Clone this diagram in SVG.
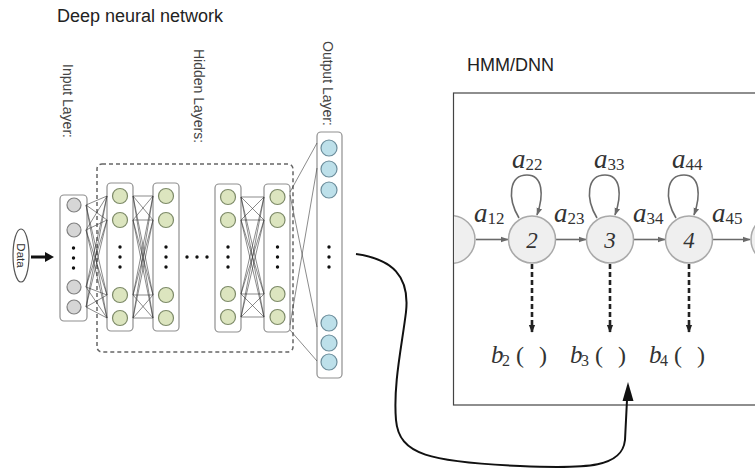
<svg xmlns="http://www.w3.org/2000/svg" width="755" height="470" viewBox="0 0 755 470">
  <defs>
    <style>
      .title{font-family:"Liberation Sans",Arial,sans-serif;font-size:18px;fill:#222}
      .vlabel{font-family:"Liberation Sans",Arial,sans-serif;font-size:14px;fill:#444}
      .lbox{fill:#fff;stroke:#8f8f8f;stroke-width:1.2}
      .in{fill:#d6d6d6;stroke:#808080;stroke-width:1.2}
      .hid{fill:#dce5bf;stroke:#7d8a68;stroke-width:1.2}
      .out{fill:#bde0ea;stroke:#6c8d9b;stroke-width:1.2}
      .dot{fill:#111}
      .wire{stroke:#3c3c3c;stroke-width:0.6;fill:none}
      .state{fill:#efefef;stroke:#a9a9a9;stroke-width:1.5}
      .trans{stroke:#6a6a6a;stroke-width:1.6;fill:none;marker-end:url(#gh)}
      .emit{stroke:#222;stroke-width:2.6;stroke-dasharray:5 3;fill:none;marker-end:url(#bh)}
      .math{font-family:"Liberation Serif","Times New Roman",serif;font-style:italic;fill:#333}
      .up{font-style:normal}
    </style>
    <marker id="gh" viewBox="0 0 10 10" refX="9" refY="5" markerWidth="8" markerHeight="8" markerUnits="userSpaceOnUse" orient="auto">
      <path d="M0 1.5 L10 5 L0 8.5z" fill="#6a6a6a"/>
    </marker>
    <marker id="bh" viewBox="0 0 10 10" refX="9" refY="5" markerWidth="8" markerHeight="8" markerUnits="userSpaceOnUse" orient="auto">
      <path d="M0 1 L10 5 L0 9z" fill="#222"/>
    </marker>
    <clipPath id="hmmclip">
      <rect x="454" y="93" width="301" height="312"/>
    </clipPath>
  </defs>

  <rect width="755" height="470" fill="#fff"/>

  <!-- titles -->
  <text class="title" x="57" y="22">Deep neural network</text>
  <text class="title" x="467" y="71">HMM/DNN</text>

  <!-- rotated layer captions -->
  <text class="vlabel" transform="translate(63,64) rotate(90)">Input Layer:</text>
  <text class="vlabel" transform="translate(194,49) rotate(90)">Hidden Layers:</text>
  <text class="vlabel" transform="translate(323,41) rotate(90)">Output Layer:</text>

  <!-- input data -->
  <g id="data">
    <ellipse cx="21" cy="255.5" rx="8" ry="26.5" fill="#fff" stroke="#555" stroke-width="1.2"/>
    <text transform="translate(21,255.5) rotate(90)" text-anchor="middle" dominant-baseline="central" font-family="Liberation Sans, Arial, sans-serif" font-size="11.5" fill="#333">Data</text>
  </g>

  <!-- hidden block frame -->
  <rect x="97" y="164" width="196" height="188" rx="5" fill="none" stroke="#666" stroke-width="1.5" stroke-dasharray="4 3"/>

  <!-- input layer -->
  <g id="input-layer">
    <rect class="lbox" x="60" y="195" width="27" height="126" rx="4"/>
    <circle class="in" cx="74" cy="205" r="7"/>
    <circle class="in" cx="74" cy="230" r="7"/>
    <circle class="dot" cx="73.5" cy="248" r="1.7"/>
    <circle class="dot" cx="73.5" cy="258" r="1.7"/>
    <circle class="dot" cx="73.5" cy="268" r="1.7"/>
    <circle class="in" cx="74" cy="287" r="7"/>
    <circle class="in" cx="74" cy="307" r="7"/>
  </g>

  <!-- hidden layers -->
  <g id="hidden-1">
    <rect class="lbox" x="107" y="183" width="26" height="148" rx="4"/>
    <circle class="hid" cx="120" cy="196" r="7.5"/>
    <circle class="hid" cx="120" cy="220" r="7.5"/>
    <circle class="dot" cx="120" cy="247" r="1.7"/>
    <circle class="dot" cx="120" cy="257" r="1.7"/>
    <circle class="dot" cx="120" cy="267" r="1.7"/>
    <circle class="hid" cx="120" cy="295" r="7.5"/>
    <circle class="hid" cx="120" cy="318" r="7.5"/>
  </g>
  <g id="hidden-2">
    <rect class="lbox" x="153" y="183" width="26" height="148" rx="4"/>
    <circle class="hid" cx="166" cy="196" r="7.5"/>
    <circle class="hid" cx="166" cy="220" r="7.5"/>
    <circle class="dot" cx="166" cy="247" r="1.7"/>
    <circle class="dot" cx="166" cy="257" r="1.7"/>
    <circle class="dot" cx="166" cy="267" r="1.7"/>
    <circle class="hid" cx="166" cy="295" r="7.5"/>
    <circle class="hid" cx="166" cy="318" r="7.5"/>
  </g>
  <g id="hidden-gap">
    <circle class="dot" cx="187" cy="257" r="1.7"/>
    <circle class="dot" cx="197" cy="257" r="1.7"/>
    <circle class="dot" cx="207" cy="257" r="1.7"/>
  </g>
  <g id="hidden-3">
    <rect class="lbox" x="215" y="184" width="26" height="148" rx="4"/>
    <circle class="hid" cx="228" cy="197" r="7.5"/>
    <circle class="hid" cx="228" cy="220" r="7.5"/>
    <circle class="dot" cx="228" cy="247" r="1.7"/>
    <circle class="dot" cx="228" cy="257" r="1.7"/>
    <circle class="dot" cx="228" cy="267" r="1.7"/>
    <circle class="hid" cx="228" cy="294" r="7.5"/>
    <circle class="hid" cx="228" cy="317" r="7.5"/>
  </g>
  <g id="hidden-4">
    <rect class="lbox" x="264" y="184" width="26" height="148" rx="4"/>
    <circle class="hid" cx="277.5" cy="197" r="7.5"/>
    <circle class="hid" cx="277.5" cy="220" r="7.5"/>
    <circle class="dot" cx="277.5" cy="247" r="1.7"/>
    <circle class="dot" cx="277.5" cy="257" r="1.7"/>
    <circle class="dot" cx="277.5" cy="267" r="1.7"/>
    <circle class="hid" cx="277.5" cy="294" r="7.5"/>
    <circle class="hid" cx="277.5" cy="317" r="7.5"/>
  </g>

  <!-- output layer -->
  <g id="output-layer">
    <rect class="lbox" x="317" y="132" width="25" height="246" rx="4"/>
    <circle class="out" cx="329" cy="148" r="8"/>
    <circle class="out" cx="329" cy="169" r="8"/>
    <circle class="out" cx="329" cy="190" r="8"/>
    <circle class="dot" cx="329" cy="247" r="1.7"/>
    <circle class="dot" cx="329" cy="257" r="1.7"/>
    <circle class="dot" cx="329" cy="267" r="1.7"/>
    <circle class="out" cx="329" cy="323" r="8"/>
    <circle class="out" cx="329" cy="343" r="8"/>
    <circle class="out" cx="329" cy="362" r="8"/>
  </g>

  <!-- HMM panel -->
  <g id="hmm-panel">
    <rect x="453.5" y="93" width="320" height="312" fill="#fff" stroke="#444" stroke-width="1.2"/>
  </g>

  <g id="hmm-links" clip-path="url(#hmmclip)">
    <line class="trans" x1="476" y1="239.5" x2="508" y2="239.5"/>
    <line class="trans" x1="556" y1="239.5" x2="586" y2="239.5"/>
    <line class="trans" x1="634" y1="239.5" x2="665" y2="239.5"/>
    <line class="trans" x1="713" y1="239.5" x2="750" y2="239.5"/>
    <path class="trans" d="M519 218C507 198 509 175 527 175C543 175 544 195 537 215"/>
    <path class="trans" d="M597 218C585 198 587 175 605 175C621 175 622 195 615 215"/>
    <path class="trans" d="M676 218C664 198 666 175 684 175C700 175 701 195 694 215"/>
    <line class="emit" x1="532" y1="264" x2="532" y2="332"/>
    <line class="emit" x1="610" y1="264" x2="610" y2="332"/>
    <line class="emit" x1="689" y1="264" x2="689" y2="332"/>
  </g>

  <g id="state-1" clip-path="url(#hmmclip)">
    <circle class="state" cx="451" cy="239.5" r="24"/>
  </g>
  <g id="state-2">
    <circle class="state" cx="532" cy="239.5" r="23.5"/>
    <text class="math" x="532" y="247.5" font-size="23" text-anchor="middle">2</text>
  </g>
  <g id="state-3">
    <circle class="state" cx="610" cy="239.5" r="23.5"/>
    <text class="math" x="610" y="247.5" font-size="23" text-anchor="middle">3</text>
  </g>
  <g id="state-4">
    <circle class="state" cx="689" cy="239.5" r="23.5"/>
    <text class="math" x="689" y="247.5" font-size="23" text-anchor="middle">4</text>
  </g>
  <g id="state-5" clip-path="url(#hmmclip)">
    <circle class="state" cx="775" cy="239.5" r="24"/>
  </g>

  <!-- transition labels -->
  <g id="hmm-labels">
    <text class="math" x="474" y="222" font-size="27">a<tspan class="up" font-size="17" dy="2">12</tspan></text>
    <text class="math" x="554" y="222" font-size="27">a<tspan class="up" font-size="17" dy="2">23</tspan></text>
    <text class="math" x="633" y="222" font-size="27">a<tspan class="up" font-size="17" dy="2">34</tspan></text>
    <text class="math" x="712" y="222" font-size="27">a<tspan class="up" font-size="17" dy="2">45</tspan></text>
    <text class="math" x="512" y="168" font-size="27">a<tspan class="up" font-size="17" dy="2">22</tspan></text>
    <text class="math" x="594" y="168" font-size="27">a<tspan class="up" font-size="17" dy="2">33</tspan></text>
    <text class="math" x="672" y="168" font-size="27">a<tspan class="up" font-size="17" dy="2">44</tspan></text>
  </g>

  <!-- emission labels -->
  <g id="emissions">
    <text class="math" x="491" y="363" font-size="25">b<tspan class="up" x="502" font-size="16" dy="3">2</tspan><tspan class="up" x="516" font-size="24" dy="-3">(</tspan><tspan class="up" x="539" font-size="24">)</tspan></text>
    <text class="math" x="570" y="363" font-size="25">b<tspan class="up" x="581" font-size="16" dy="3">3</tspan><tspan class="up" x="595" font-size="24" dy="-3">(</tspan><tspan class="up" x="618" font-size="24">)</tspan></text>
    <text class="math" x="649" y="363" font-size="25">b<tspan class="up" x="660" font-size="16" dy="3">4</tspan><tspan class="up" x="674" font-size="24" dy="-3">(</tspan><tspan class="up" x="697" font-size="24">)</tspan></text>
  </g>

  <!-- connectors -->
  <g id="connectors">
    <path class="wire" d="M86 205L107 196M86 205L107 220M86 205L107 295M86 205L107 318M86 230L107 196M86 230L107 220M86 230L107 295M86 230L107 318M86 287L107 196M86 287L107 220M86 287L107 295M86 287L107 318M86 307L107 196M86 307L107 220M86 307L107 295M86 307L107 318"/>
    <path class="wire" d="M133 196L153 196M133 196L153 220M133 196L153 295M133 196L153 318M133 220L153 196M133 220L153 220M133 220L153 295M133 220L153 318M133 295L153 196M133 295L153 220M133 295L153 295M133 295L153 318M133 318L153 196M133 318L153 220M133 318L153 295M133 318L153 318"/>
    <path class="wire" d="M241 197L264 197M241 197L264 220M241 197L264 294M241 197L264 317M241 220L264 197M241 220L264 220M241 220L264 294M241 220L264 317M241 294L264 197M241 294L264 220M241 294L264 294M241 294L264 317M241 317L264 197M241 317L264 220M241 317L264 294M241 317L264 317"/>
    <path class="wire" stroke-width="0.8" d="M290 192L317 143M290 195L317 327M290 325L317 168M290 330L317 361"/>
    <!-- data feed -->
    <line x1="31" y1="257" x2="46" y2="257" stroke="#111" stroke-width="3"/>
    <polygon points="45,252 54,257 45,262" fill="#111"/>
    <!-- link from network output to emission -->
    <path d="M356 254C392 259 410 276 406 312C402 345 393 385 396 420C399 455 430 462 520 466C590 469 622 467 625 440L627 400" fill="none" stroke="#111" stroke-width="2"/>
    <polygon points="628,382 622.5,401 633.5,401" fill="#111"/>
  </g>
</svg>
